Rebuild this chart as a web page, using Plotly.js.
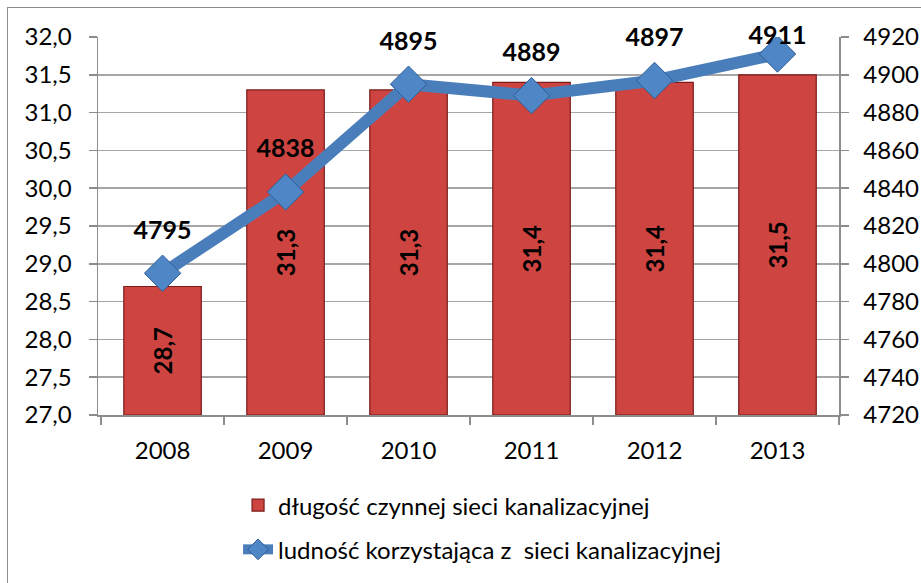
<!DOCTYPE html>
<html><head><meta charset="utf-8">
<script src="https://cdn.plot.ly/plotly-3.0.1.min.js"></script>
<style>
html,body{margin:0;padding:0;background:#fff;width:921px;height:583px;overflow:hidden;}
#frame{position:absolute;left:7px;top:7px;width:960px;height:620px;border-left:1.5px solid #8c8c8c;border-top:1.5px solid #8c8c8c;}
#chart{position:absolute;left:0;top:0;width:921px;height:583px;}
</style></head>
<body>
<div id="frame"></div>
<div id="chart"></div>
<script>
const years = ['2008','2009','2010','2011','2012','2013'];
const lengthKm = [28.7, 31.3, 31.3, 31.4, 31.4, 31.5];
const population = [4795, 4838, 4895, 4889, 4897, 4911];
const barName = 'długość czynnej sieci kanalizacyjnej';
const lineName = 'ludność korzystająca z  sieci kanalizacyjnej';

const FONT = 'Lato, "Open Sans", sans-serif';
const Y_MIN = 27, Y_MAX = 32;

const bars = {
  type: 'bar', x: years, base: Y_MIN, y: lengthKm.map(v => v - Y_MIN),
  name: barName, legendgroup: 'a',
  width: 0.63,
  marker: {color: '#cd4441', line: {color: '#7a1c1a', width: 1.2}},
  text: lengthKm.map(v => v.toFixed(1).replace('.', ',')),
  textposition: 'inside', insidetextanchor: 'middle', textangle: -90, constraintext: 'none',
  textfont: {family: FONT, size: 24, color: '#000', weight: 'bold'},
  hoverinfo: 'skip'
};
const line = {
  type: 'scatter', mode: 'lines+markers', x: years, y: population, yaxis: 'y2',
  name: lineName, legendgroup: 'b',
  line: {color: '#4a7ebb', width: 12},
  marker: {symbol: 'diamond', size: 28, color: '#4f86c6', line: {color: '#2f5d95', width: 1}},
  hoverinfo: 'skip'
};
const lineLabels = {
  type: 'scatter', mode: 'markers+text', x: years, y: population, yaxis: 'y2',
  showlegend: false,
  marker: {size: [44, 44, 44, 44, 44, 4], color: 'rgba(0,0,0,0)', line: {width: 0}},
  text: population.map(String), textposition: 'top center',
  textfont: {family: FONT, size: 25, color: '#000', weight: 'bold'},
  cliponaxis: false, hoverinfo: 'skip'
};

const layout = {
  width: 921, height: 583,
  margin: {l: 98, r: 82, t: 37, b: 168, autoexpand: false},
  paper_bgcolor: 'rgba(0,0,0,0)', plot_bgcolor: 'rgba(0,0,0,0)',
  separators: ',.',
  font: {family: FONT, size: 24, color: '#000'},
  showlegend: true,
  xaxis: {
    type: 'category', showgrid: false, showline: true, linecolor: '#8c8c8c', linewidth: 1.5,
    ticks: 'outside', tickson: 'boundaries', ticklen: 8, tickcolor: '#8c8c8c', tickwidth: 1.5,
    tickfont: {family: FONT, size: 24}, fixedrange: true, ticklabelstandoff: 14
  },
  yaxis: {
    range: [Y_MIN, Y_MAX], dtick: 0.5, tickformat: '.1f',
    showgrid: true, gridcolor: '#a6a6a6', gridwidth: 1.5,
    showline: true, linecolor: '#8c8c8c', linewidth: 1.5,
    ticks: 'outside', ticklen: 8, tickcolor: '#8c8c8c', tickwidth: 1.5,
    tickfont: {family: FONT, size: 24}, zeroline: false, ticklabelstandoff: 12
  },
  yaxis2: {
    range: [4720, 4920], dtick: 20, overlaying: 'y', side: 'right',
    showgrid: false, showline: true, linecolor: '#8c8c8c', linewidth: 1.5,
    ticks: 'outside', ticklen: 8, tickcolor: '#8c8c8c', tickwidth: 1.5,
    tickfont: {family: FONT, size: 24}, zeroline: false, ticklabelstandoff: 10
  },
  legend: {
    x: 0.189, xanchor: 'left', y: -0.18, yanchor: 'top',
    orientation: 'v', traceorder: 'grouped', tracegroupgap: 10,
    font: {family: FONT, size: 24}, bgcolor: 'rgba(0,0,0,0)'
  }
};

Plotly.newPlot('chart', [bars, line, lineLabels], layout, {displayModeBar: false, staticPlot: true});
</script>
</body></html>
